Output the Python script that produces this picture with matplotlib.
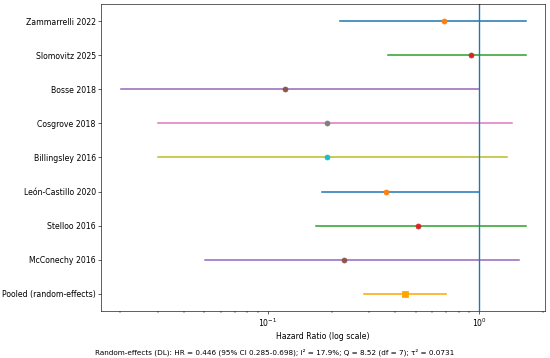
import numpy as np
import matplotlib
matplotlib.use('Agg')
import matplotlib.pyplot as plt

studies = ['Zammarrelli 2022', 'Slomovitz 2025', 'Bosse 2018', 'Cosgrove 2018',
           'Billingsley 2016', 'León-Castillo 2020', 'Stelloo 2016', 'McConechy 2016']
hr = [0.68, 0.91, 0.121, 0.19, 0.19, 0.362, 0.512, 0.23]
lo = [0.219, 0.369, 0.0201, 0.0302, 0.0302, 0.180, 0.169, 0.0503]
hi = [1.66, 1.66, 1.0, 1.43, 1.35, 1.0, 1.66, 1.55]

pooled_hr = 0.446
pooled_lo = 0.285
pooled_hi = 0.698
footer = 'Random-effects (DL): HR = 0.446 (95% CI 0.285-0.698); I² = 17.9%; Q = 8.52 (df = 7); τ² = 0.0731'

plt.rcParams['font.size'] = 10.1

fig = plt.figure(figsize=(10, 6.51), dpi=55)
ax = fig.add_axes([101/550, 1-311/358, 444/550, 307/358])

n = len(studies)
ypos = np.arange(n, 0, -1)
for i in range(n):
    ax.plot([lo[i], hi[i]], [ypos[i], ypos[i]], lw=2)
    ax.plot(hr[i], ypos[i], 'o', ms=6.5)

ax.plot([pooled_lo, pooled_hi], [0, 0], color='orange', lw=2)
ax.plot(pooled_hr, 0, 's', color='orange', ms=8)

ax.axvline(1.0, lw=1.8, color='C0')
ax.set_xscale('log')
ax.set_xlim(0.0162, 2.05)
ax.set_ylim(-0.5, n + 0.5)
ax.set_yticks(list(ypos) + [0])
ax.set_yticklabels(studies + ['Pooled (random-effects)'])
ax.set_xlabel('Hazard Ratio (log scale)')

fig.text(0.5, 1-352/358, footer, ha='center', va='center', fontsize=9.5)

fig.savefig('out.png', dpi=55)
